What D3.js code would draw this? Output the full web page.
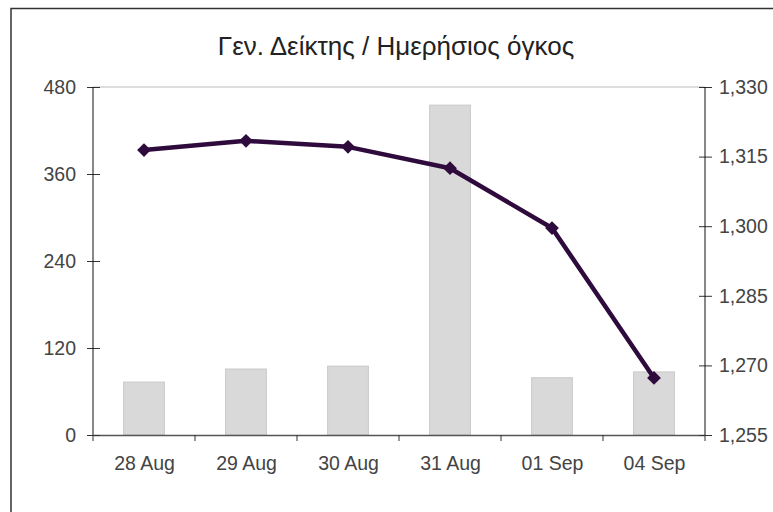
<!DOCTYPE html>
<html>
<head>
<meta charset="utf-8">
<script src="https://cdn.jsdelivr.net/npm/d3@7"></script>
<style>
  body { margin: 0; background: #fff; }
  text { font-family: "Liberation Sans", Arial, sans-serif; fill: #333; }
</style>
</head>
<body>
<div id="chart"></div>
<script>
var dates = ["28 Aug", "29 Aug", "30 Aug", "31 Aug", "01 Sep", "04 Sep"];
var volume = [73, 91, 95, 455, 79, 87];
var index = [1316.4, 1318.4, 1317.1, 1312.5, 1299.6, 1267.3];
var volumeTicks = [0, 120, 240, 360, 480];
var indexTicks = [1255, 1270, 1285, 1300, 1315, 1330];
var title = "Γεν. Δείκτης / Ημερήσιος όγκος";

var svgWidth = 773;
var svgHeight = 512;
var margin = { top: 87, right: 68, bottom: 77, left: 93 };
var chartWidth = svgWidth - margin.left - margin.right;
var chartHeight = svgHeight - margin.top - margin.bottom;

var svg = d3.select("#chart")
    .append("svg")
    .attr("width", svgWidth)
    .attr("height", svgHeight);

// outer frame
svg.append("rect")
    .attr("x", 11).attr("y", 8.5)
    .attr("width", svgWidth).attr("height", svgHeight)
    .attr("fill", "none")
    .attr("stroke", "#333")
    .attr("stroke-width", 1.5);

svg.append("text")
    .attr("x", 396)
    .attr("y", 55)
    .attr("text-anchor", "middle")
    .attr("font-size", 26)
    .style("fill", "#222")
    .text(title);

var chartGroup = svg.append("g")
    .attr("transform", `translate(${margin.left}, ${margin.top})`);

var xBand = d3.scaleBand()
    .domain(dates)
    .range([0, chartWidth])
    .paddingInner(0.6)
    .paddingOuter(0.3);

var xPoint = d3.scalePoint()
    .domain(dates)
    .range([0, chartWidth])
    .padding(0.5);

var yLeft = d3.scaleLinear()
    .domain([0, 480])
    .range([chartHeight, 0]);

var yRight = d3.scaleLinear()
    .domain([1255, 1330])
    .range([chartHeight, 0]);

// top border of plot area
chartGroup.append("line")
    .attr("x1", 0).attr("x2", chartWidth)
    .attr("y1", 0).attr("y2", 0)
    .attr("stroke", "#bbb");

chartGroup.selectAll(".bar")
    .data(dates)
    .enter()
    .append("rect")
    .attr("class", "bar")
    .attr("x", d => xBand(d))
    .attr("y", (d, i) => yLeft(volume[i]))
    .attr("width", xBand.bandwidth())
    .attr("height", (d, i) => chartHeight - yLeft(volume[i]))
    .attr("fill", "#d9d9d9")
    .attr("stroke", "#c9c9c9");

// axes
var bottomAxis = d3.axisBottom(xPoint).tickSize(0).tickPadding(21);
var xAxis = chartGroup.append("g")
    .attr("transform", `translate(0, ${chartHeight})`)
    .call(bottomAxis);
xAxis.select(".domain").attr("stroke", "#555").attr("stroke-width", 1.5);
xAxis.selectAll("text").attr("font-size", 19.5).style("fill", "#444");

// category separator ticks
var step = chartWidth / dates.length;
chartGroup.selectAll(".sep")
    .data(d3.range(dates.length + 1))
    .enter()
    .append("line")
    .attr("class", "sep")
    .attr("x1", d => d * step).attr("x2", d => d * step)
    .attr("y1", chartHeight).attr("y2", chartHeight + 6)
    .attr("stroke", "#333");

var leftAxis = d3.axisLeft(yLeft).tickValues(volumeTicks).tickSize(6).tickPadding(11);
var yAxisL = chartGroup.append("g").call(leftAxis);
yAxisL.select(".domain").remove();
yAxisL.append("line").attr("y1", 0).attr("y2", chartHeight).attr("stroke", "#111");
yAxisL.selectAll(".tick line").attr("x1", -6).attr("x2", 7).attr("stroke", "#333");
yAxisL.selectAll("text").attr("font-size", 19.5).style("fill", "#444");

var rightAxis = d3.axisRight(yRight).tickValues(indexTicks).tickSize(6).tickPadding(8)
    .tickFormat(d3.format(","));
var yAxisR = chartGroup.append("g")
    .attr("transform", `translate(${chartWidth}, 0)`)
    .call(rightAxis);
yAxisR.select(".domain").remove();
yAxisR.append("line").attr("y1", 0).attr("y2", chartHeight).attr("stroke", "#111");
yAxisR.selectAll(".tick line").attr("x1", -6).attr("x2", 7).attr("stroke", "#333");
yAxisR.selectAll("text").attr("font-size", 19.5).style("fill", "#444");

// index line
var line = d3.line()
    .x((d, i) => xPoint(dates[i]))
    .y(d => yRight(d));

chartGroup.append("path")
    .datum(index)
    .attr("d", line)
    .attr("fill", "none")
    .attr("stroke", "#2f0b3d")
    .attr("stroke-width", 4.5)
    .attr("stroke-linejoin", "round");

chartGroup.selectAll(".marker")
    .data(index)
    .enter()
    .append("path")
    .attr("class", "marker")
    .attr("d", d3.symbol().type(d3.symbolDiamond2).size(120))
    .attr("transform", (d, i) => `translate(${xPoint(dates[i])}, ${yRight(d)})`)
    .attr("fill", "#2f0b3d");
</script>
</body>
</html>
